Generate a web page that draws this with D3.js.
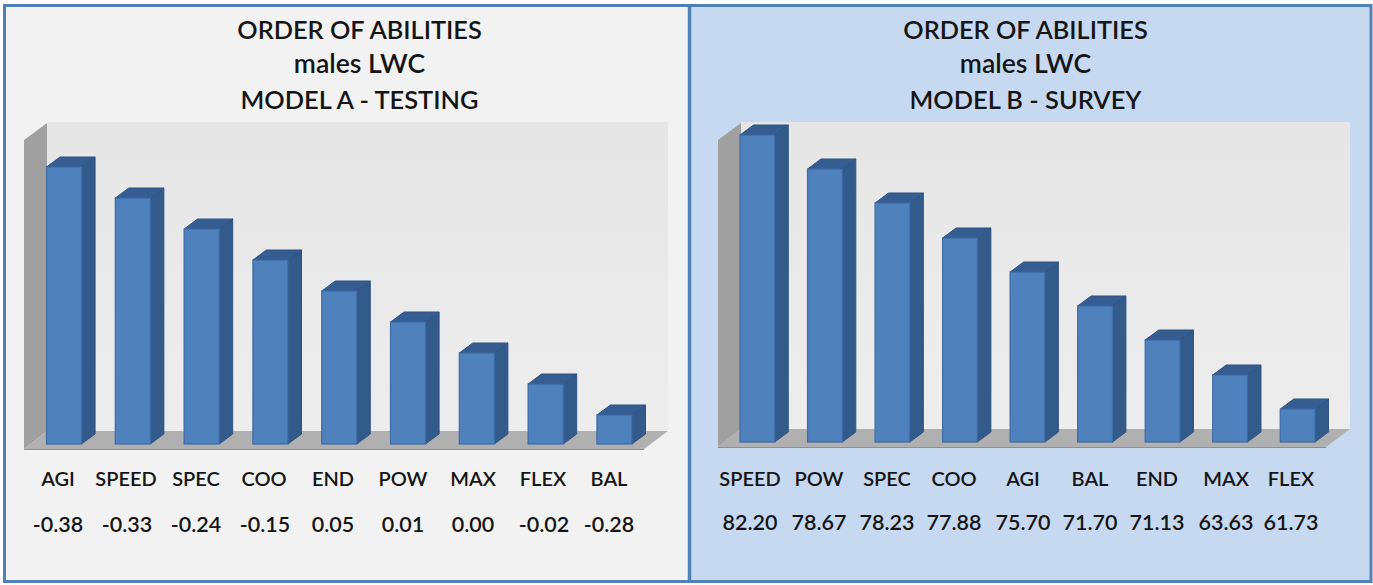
<!DOCTYPE html>
<html><head><meta charset="utf-8">
<script src="https://cdn.jsdelivr.net/npm/d3@7"></script>
<style>
html,body{margin:0;padding:0;background:#fff}
svg{display:block}
text{font-family:Lato,"Open Sans",sans-serif;fill:#151515;text-anchor:middle}
</style></head><body>
<svg id="c" width="1373" height="585"></svg>
<script>
// Bar heights are drawn as ranks (evenly stepped) in pixels
const titleLines = ["ORDER OF ABILITIES", "males LWC"];
const categoriesA = ["AGI","SPEED","SPEC","COO","END","POW","MAX","FLEX","BAL"];
const labelsA = ["-0.38","-0.33","-0.24","-0.15","0.05","0.01","0.00","-0.02","-0.28"];
const barsA = [277,246,215,184,153,122,91,60,29];
const modelA = "MODEL A - TESTING";
const categoriesB = ["SPEED","POW","SPEC","COO","AGI","BAL","END","MAX","FLEX"];
const labelsB = ["82.20","78.67","78.23","77.88","75.70","71.70","71.13","63.63","61.73"];
const barsB = [307,273,239,204,170,136,102,67,33];
const modelB = "MODEL B - SURVEY";

const svg = d3.select("#c");
const defs = svg.append("defs");
const g = defs.append("linearGradient").attr("id","wall").attr("x1",0).attr("x2",0).attr("y1",0).attr("y2",1);
g.append("stop").attr("offset","0").attr("stop-color","#e6e6e6");
g.append("stop").attr("offset","1").attr("stop-color","#ededed");
defs.append("filter").attr("id","soft").attr("x","-5%").attr("y","-5%").attr("width","110%").attr("height","110%")
  .append("feGaussianBlur").attr("stdDeviation",0.5);

function panel(o){
  const G = svg.append("g");
  G.append("rect").attr("x",o.px).attr("y",5).attr("width",o.pw).attr("height",577).attr("fill",o.bg);
  const x = d3.scaleBand().domain(o.cats).range([o.x0,o.x1]).paddingInner(o.pad).paddingOuter(0);
  const y = d3.scaleLinear().domain([0,300]).range([o.base,o.base-300]);
  const dx=13.5, dy=10, bw=x.bandwidth();
  const poly = (pts,fill)=>G.append("polygon").attr("points",pts.map(p=>p.join(",")).join(" ")).attr("fill",fill);
  // chart walls and floor
  poly([[o.wl+23,122],[o.wr,122],[o.wr,o.floorY],[o.wl+23,o.floorY]],"url(#wall)");
  poly([[o.wl,140],[o.wl+23,123],[o.wl+23,o.floorY],[o.wl,o.floorBot]],"#a0a0a0");
  poly([[o.wl,o.floorBot],[o.wl+23,o.floorY],[o.wr,o.floorY],[o.wr-24,o.floorBot]],"#b0b0b0");
  G.append("line").attr("x1",o.wl).attr("x2",o.wr-24).attr("y1",o.floorBot+.5).attr("y2",o.floorBot+.5).attr("stroke","#8f8f8f").attr("stroke-width",1.2);
  // bars
  const bars = G.selectAll("g.bar").data(o.cats.map((c,i)=>({c,v:o.bars[i]}))).join("g").attr("class","bar").attr("filter","url(#soft)");
  bars.append("polygon").attr("fill","#335a8a").attr("stroke","#2f5583").attr("stroke-width",1)
    .attr("points",d=>{const l=x(d.c),t=y(d.v);return [[l+bw,t],[l+bw+dx,t-dy],[l+bw+dx,o.base-dy],[l+bw,o.base]].join(" ")});
  bars.append("polygon").attr("fill","#345d91").attr("stroke","#2f5583").attr("stroke-width",1)
    .attr("points",d=>{const l=x(d.c),t=y(d.v);return [[l,t],[l+dx,t-dy],[l+bw+dx,t-dy],[l+bw,t]].join(" ")});
  bars.append("rect").attr("fill","#4f81bd").attr("stroke","#3d6ca6").attr("stroke-width",1.2)
    .attr("x",d=>x(d.c)).attr("y",d=>y(d.v)).attr("width",bw).attr("height",d=>o.base-y(d.v));
  // titles
  const ty=[39,73,109], ts=[25.3,26.6,25.4];
  [titleLines[0],titleLines[1],o.model].forEach((t,i)=>{
    G.append("text").attr("x",o.tx).attr("y",ty[i]).attr("font-size",ts[i]).attr("font-weight",600).text(t);
  });
  // category and value labels
  o.cats.forEach((c,i)=>{
    G.append("text").attr("x",o.lx[i]).attr("y",486).attr("font-size",20).attr("font-weight",600).text(c);
    G.append("text").attr("x",o.vx[i]).attr("y",o.vy).attr("font-size",21.5).attr("font-weight",600).text(o.labels[i]);
  });
}
panel({px:5,pw:684,bg:"#f2f2f2",cats:categoriesA,labels:labelsA,bars:barsA,model:modelA,
  x0:46.5,x1:632,pad:0.49,base:444,wl:24,wr:668,floorY:431,floorBot:449,tx:359.5,vy:532,
  lx:[58,126,196,264,333,403,473,543,609],vx:[58,127,196,265,333,403,473,544,609]});
panel({px:690,pw:681,bg:"#c6d9f1",cats:categoriesB,labels:labelsB,bars:barsB,model:modelB,
  x0:740,x1:1315,pad:0.485,base:442,wl:718,wr:1350,floorY:429,floorBot:447,tx:1025.5,vy:530,
  lx:[750,819,887,954,1023,1090,1157,1226,1291],vx:[750,819,887,954,1023,1090,1157,1226,1291]});
// borders
const B = svg.append("g").attr("fill","none").attr("stroke","#4f81b5").attr("stroke-width",3);
B.append("rect").attr("x",4.5).attr("y",5.5).attr("width",1366.5).attr("height",576);
B.append("line").attr("x1",689.5).attr("x2",689.5).attr("y1",5).attr("y2",583).attr("stroke-width",3.5);
</script></body></html>
